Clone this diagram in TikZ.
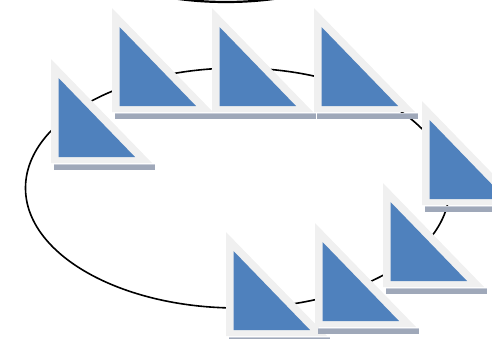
\documentclass[tikz,border=0pt]{standalone}
\definecolor{bluec}{HTML}{4F81BD}
\definecolor{outerc}{HTML}{F0F0F0}
\definecolor{shadowc}{HTML}{9FA8B9}
\definecolor{shadowl}{HTML}{C8CDD8}
\tikzset{
  tri/.pic={
    \fill[shadowc] (3,105) rectangle (104,111);
    \fill[shadowl] (3,105) rectangle (104,106.2);
    \fill[outerc] (0,0) -- (0,104) -- (101,104) -- cycle;
    \fill[bluec] (7.5,19) -- (7.5,98) -- (84,98) -- cycle;
  },
  ring/.style={draw=black, line width=1.6pt}
}
\begin{document}
\begin{tikzpicture}[x=1pt,y=-1pt]
\useasboundingbox (0,0) rectangle (492,338);
\clip (0,0) rectangle (492,338);
\draw[ring] (237.5,188) ellipse [x radius=212, y radius=120];
\draw[ring, line width=2.2pt] (226,-118) ellipse [x radius=212, y radius=120];
\pic at (51,59) {tri};
\pic at (112,8) {tri};
\pic at (212,8) {tri};
\pic at (314,8) {tri};
\pic at (422,101) {tri};
\pic at (383,183) {tri};
\pic at (226,232) {tri};
\pic at (315,223) {tri};
\end{tikzpicture}
\end{document}
